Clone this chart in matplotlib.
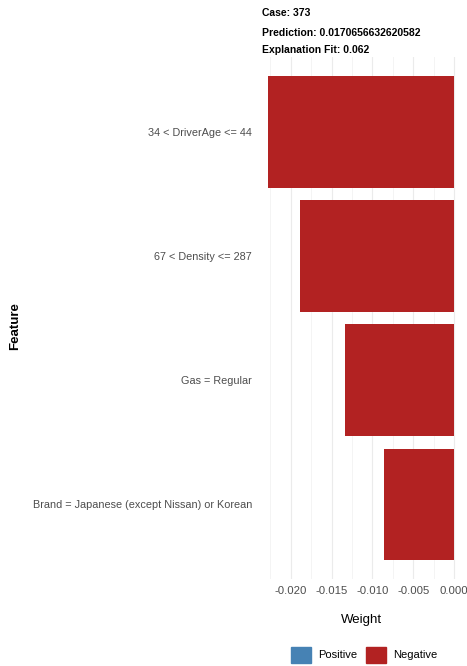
import numpy as np
import matplotlib.pyplot as plt
from matplotlib.patches import Patch

plt.rcParams['font.family'] = ['Liberation Sans', 'DejaVu Sans']

# LIME explanation for one case
features = ['34 < DriverAge <= 44', '67 < Density <= 287', 'Gas = Regular',
            'Brand = Japanese (except Nissan) or Korean']
weights = [-0.02276, -0.01887, -0.01336, -0.00854]
case_id = 373
prediction = '0.0170656632620582'
fit = 0.062

colors = ['#4682B4' if w > 0 else '#B22222' for w in weights]
y = np.arange(len(features))

fig = plt.figure(figsize=(4.67, 6.66), dpi=100)
ax = fig.add_axes([0.5546, 0.1306, 0.4375, 0.7838])

ax.barh(y, weights, height=0.9, color=colors, zorder=2)
ax.set_yticks(y)
ax.set_yticklabels(features)
ax.set_ylim(len(features) - 0.4, -0.6)
ax.set_xlim(-0.0239, 0.00114)

xt = [-0.020, -0.015, -0.010, -0.005, 0.000]
ax.set_xticks(xt)
ax.set_xticklabels(['%.3f' % v for v in xt])
ax.set_xticks(np.arange(-0.0225, 0.001, 0.005), minor=True)
ax.grid(axis='x', which='major', color='#EBEBEB', lw=0.8, zorder=0)
ax.grid(axis='x', which='minor', color='#F2F2F2', lw=0.6, zorder=0)
ax.tick_params(axis='both', which='both', length=0, colors='#4D4D4D', pad=5)
ax.tick_params(axis='x', labelsize=8.2)
ax.tick_params(axis='y', labelsize=7.8)
for s in ax.spines.values():
    s.set_visible(False)

ax.set_xlabel('Weight', fontsize=9.5, labelpad=13)
fig.text(0.032, 0.51, 'Feature', rotation=90, fontsize=9.5, fontweight='bold',
         va='center', ha='center')

fig.text(0.561, 0.981, 'Case: %d' % case_id, fontsize=7.5, fontweight='bold', va='center')
fig.text(0.561, 0.950, 'Prediction: %s' % prediction, fontsize=7.5, fontweight='bold', va='center')
fig.text(0.561, 0.925, 'Explanation Fit: %.3f' % fit, fontsize=7.5, fontweight='bold', va='center')

handles = [Patch(color='#4682B4', label='Positive'), Patch(color='#B22222', label='Negative')]
fig.legend(handles=handles, loc='center', bbox_to_anchor=(0.78, 0.017), ncol=2,
           frameon=False, fontsize=8, handlelength=1.8, handleheight=1.8,
           columnspacing=0.8, handletextpad=0.6, borderpad=0)

fig.savefig('out.png', dpi=100)
